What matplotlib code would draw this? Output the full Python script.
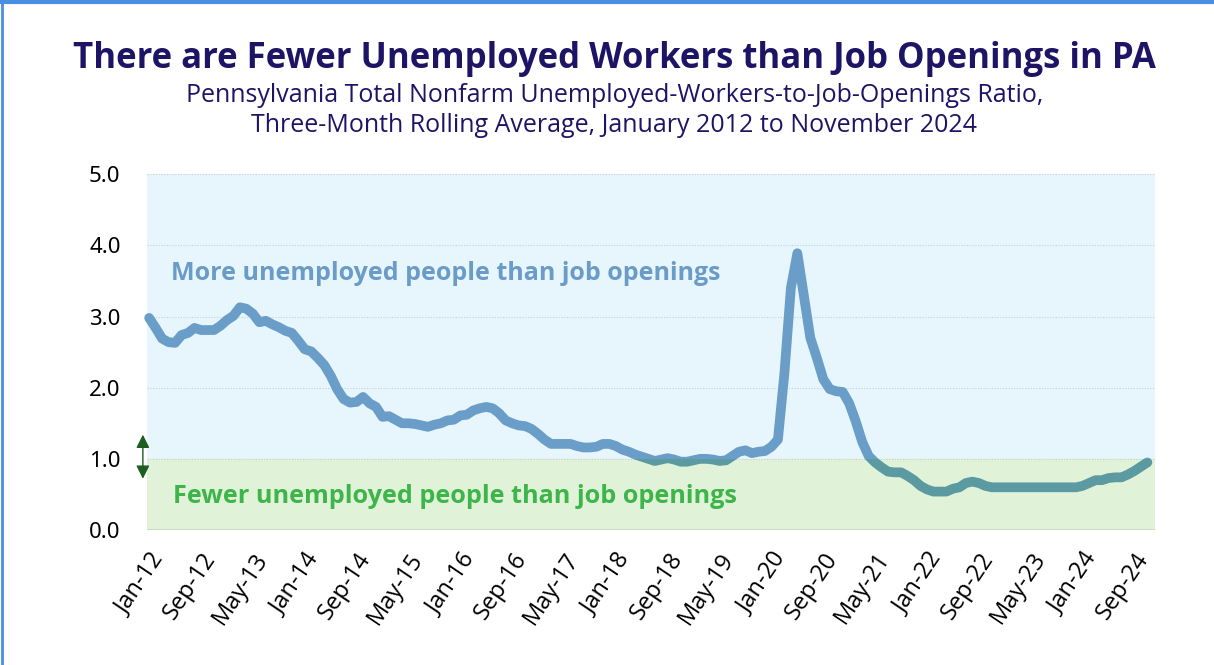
import matplotlib.pyplot as plt
from matplotlib.lines import Line2D
from matplotlib.patches import Rectangle

# monthly ratio, Jan 2012 .. Nov 2024 (three-month rolling average)
ratio_2012 = [2.98, 2.84, 2.69, 2.64, 2.63, 2.74, 2.77, 2.84, 2.81, 2.81, 2.81, 2.87]
ratio_2013 = [2.95, 3.01, 3.13, 3.11, 3.04, 2.92, 2.94, 2.89, 2.85, 2.80, 2.77, 2.66]
ratio_2014 = [2.54, 2.51, 2.42, 2.32, 2.17, 1.98, 1.84, 1.79, 1.80, 1.87, 1.78, 1.73]
ratio_2015 = [1.59, 1.60, 1.55, 1.50, 1.50, 1.49, 1.47, 1.45, 1.48, 1.50, 1.54, 1.55]
ratio_2016 = [1.61, 1.62, 1.68, 1.71, 1.73, 1.71, 1.64, 1.54, 1.50, 1.47, 1.46, 1.42]
ratio_2017 = [1.35, 1.27, 1.21, 1.21, 1.21, 1.21, 1.18, 1.16, 1.16, 1.17, 1.21, 1.21]
ratio_2018 = [1.18, 1.13, 1.10, 1.06, 1.03, 1.00, 0.97, 0.99, 1.01, 0.99, 0.96, 0.96]
ratio_2019 = [0.98, 1.00, 1.00, 0.99, 0.97, 0.98, 1.04, 1.10, 1.12, 1.08, 1.10, 1.11]
ratio_2020 = [1.17, 1.27, 2.20, 3.40, 3.89, 3.30, 2.70, 2.42, 2.12, 1.98, 1.95, 1.94]
ratio_2021 = [1.78, 1.53, 1.24, 1.04, 0.95, 0.88, 0.82, 0.81, 0.81, 0.76, 0.70, 0.62]
ratio_2022 = [0.57, 0.54, 0.54, 0.54, 0.58, 0.60, 0.66, 0.68, 0.66, 0.62, 0.60, 0.60]
ratio_2023 = [0.60, 0.60, 0.60, 0.60, 0.60, 0.60, 0.60, 0.60, 0.60, 0.60, 0.60, 0.60]
ratio_2024 = [0.62, 0.66, 0.70, 0.70, 0.73, 0.74, 0.74, 0.78, 0.83, 0.89, 0.95]

ratio = (ratio_2012 + ratio_2013 + ratio_2014 + ratio_2015 + ratio_2016 + ratio_2017
         + ratio_2018 + ratio_2019 + ratio_2020 + ratio_2021 + ratio_2022 + ratio_2023
         + ratio_2024)
months = list(range(len(ratio)))

tick_labels = ["Jan-12", "Sep-12", "May-13", "Jan-14", "Sep-14", "May-15", "Jan-16",
               "Sep-16", "May-17", "Jan-18", "Sep-18", "May-19", "Jan-20", "Sep-20",
               "May-21", "Jan-22", "Sep-22", "May-23", "Jan-24", "Sep-24"]
tick_pos = [8 * k for k in range(len(tick_labels))]

NAVY = "#1e1466"
LINE_BLUE = "#6a9ec8"
LINE_TEAL = "#5a9aa0"

fig = plt.figure(figsize=(12.14, 6.65), dpi=100)
ax = fig.add_axes([0.121, 0.203, 0.830, 0.535])

x0, x1 = -0.35, 155.1
ax.set_xlim(x0, x1)
ax.set_ylim(0, 5)

# shaded regions above / below parity
ax.axhspan(1, 5, color="#e6f6fc", zorder=0)
ax.axhspan(0, 1, color="#e0f3d8", zorder=0)

for y in [1, 2, 3, 4, 5]:
    ax.axhline(y, color="#c8d0d4", lw=0.8, ls=(0, (1, 1.5)), zorder=1)
ax.axhline(0, color="#c9dcc2", lw=1.5, zorder=1)

# line drawn twice, tinted differently above and below 1.0
top = ax.plot(months, ratio, color=LINE_BLUE, lw=7, solid_capstyle="round",
              solid_joinstyle="round", zorder=3)[0]
bot = ax.plot(months, ratio, color=LINE_TEAL, lw=7, solid_capstyle="round",
              solid_joinstyle="round", zorder=3)[0]
clip_top = Rectangle((x0 - 5, 1), 200, 10, transform=ax.transData)
clip_bot = Rectangle((x0 - 5, -5), 200, 6, transform=ax.transData)
top.set_clip_path(clip_top)
bot.set_clip_path(clip_bot)

ax.text(3.4, 3.6, "More unemployed people than job openings", color="#6b9bc7",
        fontsize=18, fontweight="bold", family="Open Sans", va="center", zorder=4)
ax.text(3.7, 0.47, "Fewer unemployed people than job openings", color="#3db54a",
        fontsize=18.2, fontweight="bold", family="Open Sans", va="center", zorder=4)

# double arrow marking the parity line
ax.annotate("", xy=(-0.004, 0.72), xytext=(-0.004, 1.34),
            xycoords=("axes fraction", "data"), textcoords=("axes fraction", "data"),
            arrowprops=dict(arrowstyle="<|-|>", color="#1d5e20", lw=1.0,
                            mutation_scale=20, shrinkA=0, shrinkB=0),
            annotation_clip=False)

ax.set_yticks([0, 1, 2, 3, 4, 5])
ax.set_yticklabels(["0.0", "1.0", "2.0", "3.0", "4.0", "5.0"],
                   fontsize=16, family="Noto Sans")
ax.set_xticks(tick_pos)
ax.set_xticklabels(tick_labels, rotation=56, ha="right", rotation_mode="anchor",
                   fontsize=17, family="Open Sans")
ax.tick_params(axis="both", length=0)
ax.tick_params(axis="y", pad=19)
ax.tick_params(axis="x", pad=13)
for s in ax.spines.values():
    s.set_visible(False)

fig.text(0.506, 0.912, "There are Fewer Unemployed Workers than Job Openings in PA",
         ha="center", va="center", fontsize=25, fontweight="bold", color=NAVY,
         family="Open Sans")
fig.text(0.506, 0.857, "Pennsylvania Total Nonfarm Unemployed-Workers-to-Job-Openings Ratio,",
         ha="center", va="center", fontsize=18, color=NAVY, family="Open Sans")
fig.text(0.506, 0.811, "Three-Month Rolling Average, January 2012 to November 2024",
         ha="center", va="center", fontsize=18, color=NAVY, family="Open Sans")

# thin blue frame along the top and left edges
fig.add_artist(Line2D([0, 1], [0.997, 0.997], color="#4a90e2", lw=3, transform=fig.transFigure))
fig.add_artist(Line2D([0.002, 0.002], [0, 1], color="#4a90e2", lw=2, transform=fig.transFigure))

fig.savefig("out.png", dpi=100)
